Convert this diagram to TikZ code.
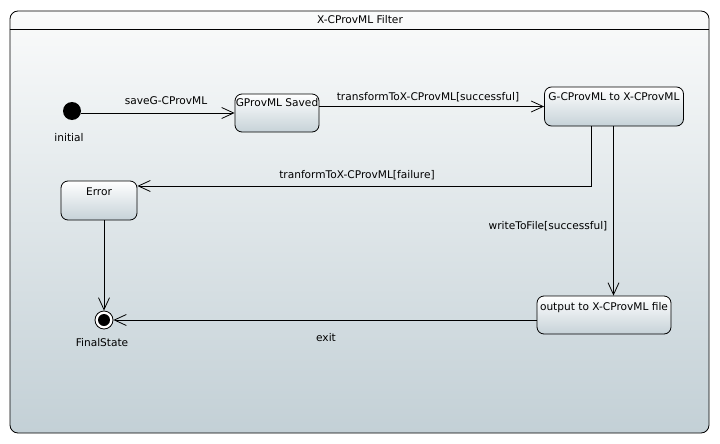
\documentclass[tikz,border=0pt]{standalone}
\usepackage{fontspec}
\setmainfont{DejaVu Sans}
\usetikzlibrary{arrows.meta}
\definecolor{bgtop}{HTML}{FAFBFB}
\definecolor{bgbot}{HTML}{C3D0D6}
\definecolor{boxbot}{HTML}{C6D2D8}
\begin{document}
\begin{tikzpicture}[x=1pt,y=-1pt,
  font=\fontsize{10.6}{12}\selectfont,
  line width=0.8pt,
  statebox/.style={draw, rounded corners=7pt, top color=white, bottom color=boxbot, inner sep=0pt},
  arr/.style={-{Straight Barb[length=12pt,width=11pt,line width=0.8pt]}},
  lbl/.style={inner sep=0pt}]
\useasboundingbox (0,0) rectangle (720,444);
\fill[white] (0,0) rectangle (720,444);
% frame
\node[draw, rounded corners=8pt, top color=bgtop, bottom color=bgbot, minimum width=699pt, minimum height=422pt, inner sep=0pt] (frame) at (359.5,222) {};
\node[lbl] (title) at (360,20) {X-CProvML Filter};
\coordinate (hl) at (0,29);
\draw (frame.west |- hl) -- (frame.east |- hl);
% states
\node[circle, fill=black, minimum size=18pt, inner sep=0pt] (init) at (72,111) {};
\node[lbl, anchor=north] (initl) at (69,133) {initial};
\node[statebox, minimum width=84pt, minimum height=38pt, label={[anchor=north, yshift=-4pt, inner sep=0pt]north:GProvML Saved}] (gsaved) at (277,113) {};
\node[statebox, minimum width=139pt, minimum height=39pt, label={[anchor=north, yshift=-6pt, inner sep=0pt]north:G-CProvML to X-CProvML}] (gc) at (614,106.5) {};
\node[statebox, minimum width=76pt, minimum height=39pt, label={[anchor=north, yshift=-7pt, inner sep=0pt]north:Error}] (err) at (99,200.5) {};
\node[statebox, minimum width=134pt, minimum height=38pt, label={[anchor=north, yshift=-6pt, inner sep=0pt]north:output to X-CProvML file}] (out) at (604,315) {};
\node[circle, draw, fill=white, minimum size=18pt, inner sep=0pt] (final) at (104,320) {};
\node[circle, fill=black, minimum size=12pt, inner sep=0pt] (finalin) at (final.center) {};
\node[lbl, anchor=north] (finall) at (102,338) {FinalState};
% transitions
\draw[arr] (init.east |- gsaved.west) -- (gsaved.west);
\node[lbl] (l1) at (166,101) {saveG-CProvML};
\draw[arr] (gsaved.east |- gc.west) -- (gc.west);
\node[lbl] (l2) at (428,97) {transformToX-CProvML[successful]};
\coordinate (f1) at ([xshift=-23pt]gc.south);
\coordinate (ef) at ([yshift=14.5pt]err.east);
\draw[arr] (f1) |- (ef);
\node[lbl] (l3) at (357,175) {tranformToX-CProvML[failure]};
\coordinate (w1) at ([xshift=-0.5pt]gc.south);
\draw[arr] (w1) -- (w1 |- out.north);
\node[lbl] (l4) at (548,226) {writeToFile[successful]};
\draw[arr] (err.south -| final.north) -- (final.north);
\coordinate (ex) at ([yshift=-5pt]out.west);
\draw[arr] (ex) -- (ex -| final.east);
\node[lbl] (l5) at (326,338) {exit};
\end{tikzpicture}
\end{document}
